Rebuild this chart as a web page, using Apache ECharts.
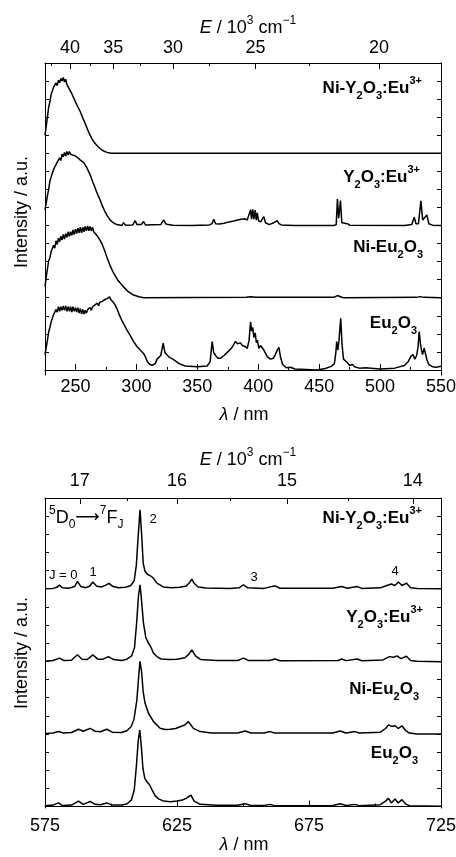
<!DOCTYPE html>
<html>
<head>
<meta charset="utf-8">
<title>Eu2O3 excitation / emission</title>
<script src="https://cdn.jsdelivr.net/npm/echarts@6/dist/echarts.min.js"></script>
<style>
  html, body { margin: 0; padding: 0; background: #fff; }
  #chart { width: 456px; height: 857px; }
</style>
</head>
<body>
<div id="chart"></div>
<script>
// ---------- axis ticks ----------
const exLambdaLabels = [250, 300, 350, 400, 450, 500, 550];
const exLambdaMinor = [225, 275, 325, 375, 425, 475, 525];
const exEnergyLabels = [40, 35, 30, 25, 20];
// nm positions of the energy ticks as drawn in the original figure
const exEnergyTickNm = [245.5, 281, 330, 397.7, 499.2];
const exEnergyMinorNm = [230, 262, 303, 359.6, 441.7];

const emLambdaLabels = [575, 625, 675, 725];
const emLambdaMinor = [600, 650, 700];
const emEnergyLabels = [17, 16, 15, 14];
const emEnergyTickNm = [588.2, 625, 666.7, 714.3];
const emEnergyMinorNm = [606.1, 645.2, 689.7];

const yTicks = [0, 1, 2, 3, 4, 5, 6, 7, 8, 9, 10, 11, 12, 13, 14, 15, 16, 17];

// ---------- excitation spectra (offset, a.u.) ----------
const exNiY = [[225,13.0],[226,13.5],[227,14.0],[228,14.55],[229,14.85],[230,15.25],[231,15.3],[232,15.65],[233,15.6],[234,15.9],[235,15.75],[236,16.05],[237,15.9],[238,16.15],[239,16.0],[240,16.2],[241,15.95],[242,16.1],[243,15.8],[244,15.85],[245,15.55],[246,15.55],[247,15.3],[248,15.25],[249,15.0],[250,14.95],[251,14.7],[252,14.62],[254,14.3],[256,13.95],[258,13.65],[260,13.3],[262,13.0],[264,12.75],[266,12.55],[268,12.4],[270,12.28],[272,12.17],[274,12.1],[276,12.05],[279,12.0],[550,12.0]];

const exY = [[225,8.85],[226,9.25],[227,9.65],[228,10.0],[229,10.45],[230,10.55],[231,10.9],[232,10.95],[233,11.25],[234,11.2],[235,11.5],[236,11.45],[237,11.75],[238,11.6],[239,11.95],[240,11.8],[241,12.05],[242,11.85],[243,12.1],[244,11.9],[245,12.1],[246,11.95],[247,12.05],[248,11.9],[249,12.0],[250,11.85],[251,11.95],[252,11.75],[253,11.8],[254,11.62],[255,11.65],[256.6,11.5],[259,11.25],[262,10.82],[264,10.45],[266,10.1],[268,9.75],[270.3,9.4],[272,9.1],[274,8.8],[276,8.55],[278.5,8.3],[281,8.15],[284,8.05],[288,8.0],
  [289.5,8.16],[291,8.02],[297,8.03],[299,8.27],[300.5,8.05],[302,8.08],[304,8.05],[305.9,8.22],[307.5,8.03],[320,8.05],[322.4,8.31],[324,8.1],[326,8.05],[330,8.02],[345,8.0],[360,8.03],[362,8.1],[363.5,8.35],[365,8.1],[368,8.08],[372,8.12],[376,8.2],[380,8.25],[383,8.3],[386,8.35],[389,8.38],[391,8.3],[392.5,8.4],[393.7,8.88],[394.5,8.35],[395.5,8.9],[396.4,8.35],[397.5,8.85],[398.4,8.3],[399.2,8.7],[400.3,8.25],[402,8.2],[404.6,8.49],[406,8.15],[409,8.05],[412.6,8.15],[414,8.08],[415.6,8.27],[417,8.1],[419,8.03],[430,8.0],[462,8.0],[464,8.05],[465,9.46],[466,8.4],[467.5,9.38],[468.6,8.15],[470,8.05],[473.2,8.1],[475,8.02],[520,8.0],[526,8.05],[528,8.46],[529.5,8.1],[531.5,8.1],[533.5,9.36],[535,8.3],[536.5,8.2],[538.4,8.59],[540,8.1],[543,8.02],[550,8.0]];

const exNiEu = [[225,4.6],[226,5.15],[227,5.6],[228,6.05],[229,6.2],[230,6.55],[231,6.5],[232,6.9],[233,6.75],[234,7.15],[235,6.95],[236,7.3],[237,7.1],[238,7.4],[239,7.2],[240,7.5],[241,7.25],[242,7.55],[243,7.35],[244,7.65],[245,7.4],[246,7.65],[247,7.45],[248,7.75],[249,7.5],[250,7.8],[251,7.55],[252,7.85],[253,7.6],[254,7.9],[255,7.6],[256,7.9],[257,7.65],[258,7.95],[259,7.7],[260,7.98],[261,7.7],[262,7.95],[263,7.7],[264,7.9],[265,7.65],[266,7.75],[267,7.5],[268,7.5],[270,7.2],[272,6.95],[274,6.6],[276,6.2],[278,5.85],[281,5.4],[285,4.95],[289.5,4.6],[293,4.35],[297.7,4.15],[302,4.05],[306,4.0],[390,4.02],[394,4.06],[398,4.02],[462,4.02],[465,4.12],[468,4.04],[470,4.0],[530,4.02],[533,4.06],[536,4.02],[550,4.0]];

const exEu = [[225,0.83],[226,1.25],[227,1.65],[228,2.1],[229,2.35],[230,2.65],[231,2.7],[232,3.05],[233,2.95],[234,3.35],[235,3.2],[236,3.5],[237,3.25],[238,3.5],[239,3.3],[240,3.55],[241,3.3],[242,3.55],[243,3.25],[244,3.5],[245,3.25],[246,3.5],[247,3.2],[248,3.5],[249,3.25],[250,3.45],[251,3.2],[252,3.45],[253,3.15],[254,3.4],[255,3.1],[256,3.35],[257,3.1],[258,3.3],[259,3.15],[260,3.35],[261,3.25],[262,3.45],[263,3.3],[264,3.5],[265,3.4],[266,3.6],[267,3.5],[268,3.7],[269,3.55],[270,3.75],[271,3.65],[272,3.8],[273,3.7],[274,3.9],[275,3.8],[276,3.95],[277,3.85],[278,4.05],[279,3.9],[280,3.95],[281,3.75],[282.5,3.6],[284,3.4],[286,3.05],[288,2.75],[290,2.5],[292.3,2.21],[295,1.9],[297.7,1.57],[299,1.5],[300.5,1.3],[301.5,1.35],[303.2,1.1],[304.5,1.15],[306,0.9],[307.3,0.74],[309,0.45],[311,0.3],[313,0.26],[315.5,0.35],[317,0.6],[318.5,0.7],[320,0.8],[322,1.48],[323.5,0.95],[325,0.85],[327,0.7],[328.3,0.8],[330,0.6],[332,0.5],[335,0.35],[340,0.22],[350,0.18],[358,0.22],[360.5,0.45],[362.2,1.57],[363.5,0.95],[365,0.8],[367,0.65],[369,0.65],[372,0.8],[375,1.0],[377.2,1.15],[379,1.3],[381.3,1.57],[383,1.45],[385.4,1.5],[387,1.35],[389,1.3],[391,1.2],[392.5,1.65],[393.7,2.67],[394.6,2.15],[395.5,2.35],[396.4,1.8],[397.5,2.05],[398.5,1.5],[399.3,1.65],[400.5,1.2],[401.9,1.35],[403,1.45],[404.2,1.15],[405.5,1.05],[407.4,0.74],[410,0.6],[412.5,0.65],[414,0.85],[415.6,1.1],[417,1.25],[418.3,0.7],[420,0.3],[423,0.12],[426.6,0.15],[430,0.05],[448.5,0.0],[455,0.08],[460,0.2],[462.5,0.35],[463.6,0.9],[464.4,1.57],[465.3,1.1],[466.3,1.65],[467.7,2.86],[468.8,1.4],[470,0.6],[471.5,0.5],[473.2,0.4],[475,0.25],[477.5,0.3],[479,0.18],[483,0.1],[488,0.12],[500,0.05],[512,0.1],[520,0.25],[523,0.45],[525.2,0.75],[527,0.85],[528.5,0.6],[530,0.8],[531.2,1.3],[532.1,2.12],[533.3,1.35],[534.8,0.85],[536.2,1.2],[537.3,1.15],[538.5,0.55],[540,0.3],[543,0.18],[546,0.15],[550,0.2]];

// ---------- emission spectra (offset, a.u.) ----------
const emNiY = [[575,12.0],[578,12.02],[579.5,12.08],[580.5,12.2],[581.5,12.05],[584,12.03],[586.2,12.12],[587.3,12.4],[588.6,12.12],[590.5,12.06],[592,12.15],[593.1,12.37],[594.6,12.14],[596.5,12.1],[598,12.2],[599.2,12.3],[600.8,12.12],[603,12.05],[605.5,12.08],[607.5,12.18],[608.8,12.45],[609.6,13.3],[610.3,14.9],[611,16.35],[611.6,15.0],[612.2,13.4],[612.9,12.95],[613.8,12.8],[614.8,12.72],[615.8,12.62],[617.4,12.31],[619.8,12.1],[623,12.06],[626,12.08],[628.5,12.15],[629.8,12.35],[630.6,12.53],[631.5,12.3],[633,12.1],[636,12.04],[645,12.02],[648.5,12.05],[650.2,12.22],[651.8,12.05],[658,12.02],[662.2,12.16],[664,12.03],[684,12.03],[687.4,12.12],[689.5,12.03],[693.3,12.12],[695,12.02],[702,12.05],[704.5,12.18],[706.2,12.26],[707.5,12.18],[708.9,12.37],[710.2,12.18],[711.9,12.31],[713.5,12.06],[716,12.02],[725,12.0]];

const emY = [[575,8.0],[578,8.05],[580.5,8.18],[582,8.05],[585,8.06],[587.3,8.36],[589,8.12],[591,8.1],[593.1,8.36],[595,8.12],[597,8.12],[599,8.26],[601,8.1],[604,8.05],[606,8.12],[607.8,8.3],[608.9,8.75],[609.7,10.1],[610.4,11.6],[611,12.22],[611.6,11.3],[612.3,10.1],[613.2,9.3],[614.2,9.0],[615.2,8.75],[616.1,8.45],[617.5,8.25],[619,8.13],[622,8.1],[625,8.12],[628,8.2],[629.5,8.4],[630.6,8.63],[632,8.3],[634,8.1],[640,8.05],[648,8.05],[650.2,8.18],[652,8.05],[660,8.05],[662.2,8.13],[664,8.03],[686,8.05],[687.4,8.13],[689,8.04],[693.3,8.13],[695,8.03],[703,8.08],[705.5,8.26],[707,8.22],[708.3,8.3],[709.8,8.15],[711.9,8.28],[713.5,8.05],[716,8.0],[725,7.98]];

const emNiEu = [[575,4.02],[578,4.05],[580.1,4.13],[582,4.05],[585,4.08],[587.7,4.26],[589.5,4.15],[592.1,4.31],[594,4.15],[596,4.12],[598.4,4.26],[600.5,4.1],[604,4.08],[606,4.18],[607.6,4.4],[608.7,4.8],[609.8,5.87],[610.5,7.2],[611,8.0],[611.6,7.4],[612.2,6.3],[612.9,5.7],[614.2,5.14],[616.1,4.68],[618.6,4.31],[620.5,4.25],[622.4,4.26],[624.5,4.3],[626.2,4.4],[628,4.5],[629.3,4.68],[631.2,4.31],[633.8,4.13],[638,4.05],[648,4.05],[650.8,4.16],[653,4.05],[658,4.05],[660.3,4.13],[662,4.05],[684,4.05],[686.8,4.16],[689,4.05],[692.4,4.13],[694,4.05],[702,4.1],[704,4.3],[705.1,4.5],[706.4,4.42],[707.6,4.45],[708.8,4.3],[710.2,4.45],[711.5,4.2],[713,4.05],[716,4.0],[725,4.0]];

const emEu = [[575,0.05],[578,0.08],[580.1,0.2],[581.5,0.06],[585,0.08],[587.7,0.3],[589.5,0.12],[592.1,0.28],[594,0.12],[596,0.1],[598.4,0.2],[600.5,0.08],[604,0.08],[606,0.14],[607.7,0.35],[608.8,0.9],[609.6,2.2],[610.3,3.6],[610.9,4.22],[611.5,3.3],[612.1,2.1],[612.8,1.55],[613.6,1.37],[614.6,1.2],[615.6,0.9],[616.7,0.6],[618,0.42],[620,0.3],[622.4,0.26],[625,0.3],[627,0.36],[628.5,0.45],[629.3,0.54],[630.3,0.63],[631.5,0.3],[633.8,0.12],[640,0.07],[648,0.07],[650.8,0.16],[653,0.06],[658,0.06],[660.3,0.12],[662,0.05],[684,0.06],[686.8,0.15],[689,0.06],[692.4,0.12],[694,0.05],[702,0.1],[704,0.3],[705.1,0.45],[706.2,0.2],[707.6,0.42],[708.8,0.2],[710.2,0.38],[711.5,0.15],[713,0.05],[725,0.02]];

// ---------- chart ----------
const FONT = '"Liberation Sans", Arial, sans-serif';
const chart = echarts.init(document.getElementById('chart'), null, { renderer: 'canvas' });

function lambdaAxis(grid, min, max, labels, ticks, margin) {
  return {
    type: 'value', gridIndex: grid, position: 'bottom', min: min, max: max,
    axisLine: { show: true, lineStyle: { color: '#000', width: 1 } },
    axisTick: { show: true, inside: true, length: 6, customValues: ticks, lineStyle: { color: '#000' } },
    axisLabel: { show: true, customValues: labels, margin: margin, color: '#000', fontSize: 18, fontFamily: FONT },
    splitLine: { show: false }
  };
}
function minorAxis(grid, min, max, ticks, pos) {
  return {
    type: 'value', gridIndex: grid, position: pos, min: min, max: max,
    axisLine: { show: false },
    axisTick: { show: true, inside: true, length: 3, customValues: ticks, lineStyle: { color: '#000' } },
    axisLabel: { show: false },
    splitLine: { show: false }
  };
}
function energyAxis(grid, min, max, tickNm, labels, margin) {
  return {
    type: 'value', gridIndex: grid, position: 'top', min: min, max: max,
    axisLine: { show: true, lineStyle: { color: '#000', width: 1 } },
    axisTick: { show: true, inside: true, length: 6, customValues: tickNm, lineStyle: { color: '#000' } },
    axisLabel: {
      show: true, customValues: tickNm, margin: margin, color: '#000', fontSize: 18, fontFamily: FONT,
      formatter: function (v) {
        let best = 0;
        tickNm.forEach(function (t, i) { if (Math.abs(t - v) < Math.abs(tickNm[best] - v)) best = i; });
        return String(labels[best]);
      }
    },
    splitLine: { show: false }
  };
}
function intensityAxis(grid, min, pos) {
  return {
    type: 'value', gridIndex: grid, position: pos, min: min, max: 17,
    axisLine: { show: true, lineStyle: { color: '#000', width: 1 } },
    axisTick: { show: true, inside: true, length: 4, customValues: yTicks, lineStyle: { color: '#000' } },
    axisLabel: { show: false },
    splitLine: { show: false }
  };
}
function spectrum(data, xi, yi) {
  return {
    type: 'line', data: data, xAxisIndex: xi, yAxisIndex: yi,
    showSymbol: false, symbol: 'none', silent: true,
    lineStyle: { color: '#000', width: 1.5 }
  };
}

const rich = {
  b: { fontFamily: FONT, fontWeight: 'bold', fontSize: 17, lineHeight: 26 },
  bsub: { fontFamily: FONT, fontWeight: 'bold', fontSize: 11, lineHeight: 13, verticalAlign: 'bottom' },
  bsup: { fontFamily: FONT, fontWeight: 'bold', fontSize: 11, lineHeight: 16, verticalAlign: 'top' },
  r: { fontFamily: FONT, fontSize: 18, lineHeight: 26 },
  i: { fontFamily: FONT, fontSize: 18, fontStyle: 'italic', lineHeight: 26 },
  sup: { fontFamily: FONT, fontSize: 12, lineHeight: 15, verticalAlign: 'top' },
  sub: { fontFamily: FONT, fontSize: 12, lineHeight: 14, verticalAlign: 'bottom' },
  arr: { fontFamily: '"DejaVu Sans"', fontSize: 17, lineHeight: 26 },
  s: { fontFamily: FONT, fontSize: 13, lineHeight: 16 }
};
function label(text, x, y, align, rot) {
  return {
    type: 'text', x: x, y: y, rotation: rot || 0, silent: true,
    style: { text: text, rich: rich, fill: '#000', align: align, verticalAlign: 'middle', font: '18px ' + FONT }
  };
}
const NIY = '{b|Ni-Y}{bsub|2}{b|O}{bsub|3}{b|:Eu}{bsup|3+}';
const Y = '{b|Y}{bsub|2}{b|O}{bsub|3}{b|:Eu}{bsup|3+}';
const NIEU = '{b|Ni-Eu}{bsub|2}{b|O}{bsub|3}';
const EU = '{b|Eu}{bsub|2}{b|O}{bsub|3}';
const ETITLE = '{i|E}{r| / 10}{sup|3}{r| cm}{sup|\u22121}';
const LTITLE = '{i|\u03bb}{r| / nm}';
const YTITLE = '{r|Intensity / a.u.}';

chart.setOption({
  animation: false,
  grid: [
    { left: 45, top: 63, width: 396, height: 312, outerBoundsMode: 'none' },
    { left: 45, top: 498, width: 396, height: 310, outerBoundsMode: 'none' }
  ],
  xAxis: [
    lambdaAxis(0, 225, 550, exLambdaLabels, exLambdaLabels, 3),
    minorAxis(0, 225, 550, exLambdaMinor, 'bottom'),
    energyAxis(0, 225, 550, exEnergyTickNm, exEnergyLabels, 6),
    minorAxis(0, 225, 550, exEnergyMinorNm, 'top'),
    lambdaAxis(1, 575, 725, emLambdaLabels, emLambdaLabels, 9),
    minorAxis(1, 575, 725, emLambdaMinor, 'bottom'),
    energyAxis(1, 575, 725, emEnergyTickNm, emEnergyLabels, 8),
    minorAxis(1, 575, 725, emEnergyMinorNm, 'top')
  ],
  yAxis: [
    intensityAxis(0, -0.28, 'left'),
    intensityAxis(0, -0.28, 'right'),
    intensityAxis(1, -0.08, 'left'),
    intensityAxis(1, -0.08, 'right')
  ],
  series: [
    spectrum(exNiY, 0, 0), spectrum(exY, 0, 0), spectrum(exNiEu, 0, 0), spectrum(exEu, 0, 0),
    spectrum(emNiY, 4, 2), spectrum(emY, 4, 2), spectrum(emNiEu, 4, 2), spectrum(emEu, 4, 2)
  ],
  graphic: [
    label(ETITLE, 248, 28, 'center'),
    label(LTITLE, 244, 415, 'center'),
    label(ETITLE, 248, 460, 'center'),
    label(LTITLE, 244, 845, 'center'),
    label(YTITLE, 22, 212, 'center', Math.PI / 2),
    label(YTITLE, 22, 653, 'center', Math.PI / 2),
    label(NIY, 422, 88, 'right'),
    label(Y, 420, 177, 'right'),
    label(NIEU, 423, 247, 'right'),
    label(EU, 417, 323, 'right'),
    label(NIY, 422, 518, 'right'),
    label(Y, 423, 617, 'right'),
    label(NIEU, 419, 689, 'right'),
    label(EU, 418, 753, 'right'),
    label('{sup|5}{r|D}{sub|0}{arr|\u27f6}{sup|7}{r|F}{sub|J}', 49, 518, 'left'),
    label('{s|2}', 153, 519, 'center'),
    label('{s|J = 0}', 49, 575, 'left'),
    label('{s|1}', 93, 572, 'center'),
    label('{s|3}', 254, 577, 'center'),
    label('{s|4}', 395, 571, 'center')
  ]
});
</script>
</body>
</html>
